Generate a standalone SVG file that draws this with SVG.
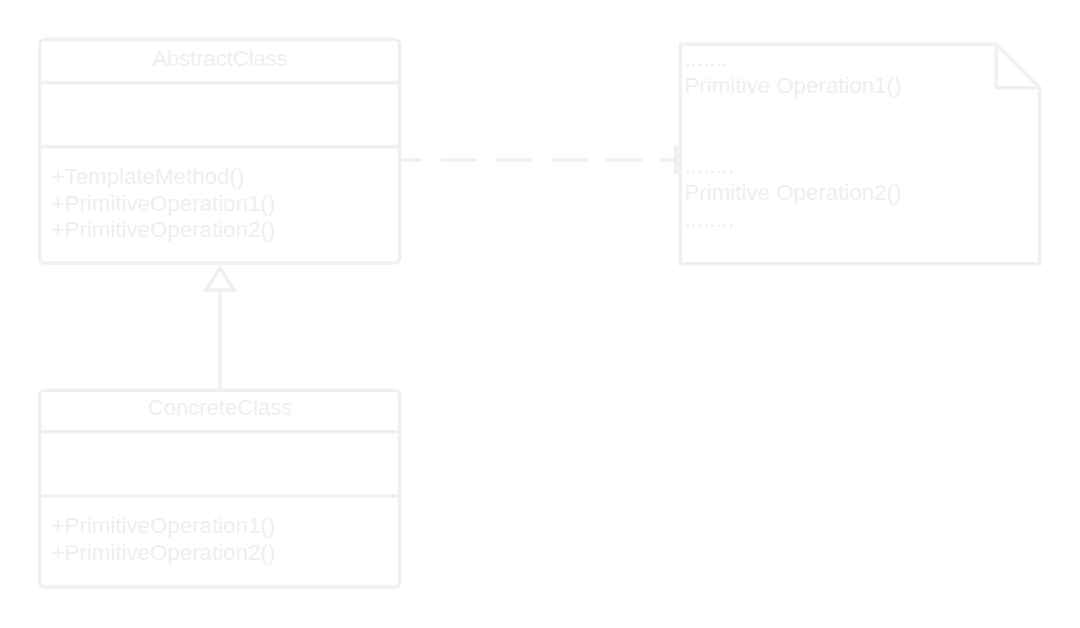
<svg xmlns="http://www.w3.org/2000/svg" width="1080" height="628" viewBox="0 0 1080 628">
<style>
.box{fill:#ffffff;stroke:#f0f0f0;stroke-width:3.6}
.ln{fill:none;stroke:#f0f0f0;stroke-width:3.6}
.t{font-family:"Liberation Sans",Arial,sans-serif;font-size:22.3px;fill:#efefef}
.h{font-size:22px;text-anchor:middle}
</style>
<rect width="1080" height="628" fill="#ffffff"/>
<g id="connectors">
  <line class="ln" x1="400" y1="160" x2="676" y2="160" stroke-dasharray="36 19" stroke-dashoffset="14"/>
  <rect x="674" y="145" width="4" height="29" fill="#f0f0f0"/>
  <line class="ln" x1="220" y1="390" x2="220" y2="290"/>
  <polygon class="ln" points="220,268 234,290 206,290" stroke-linejoin="miter"/>
</g>
<g id="AbstractClass">
  <rect class="box" x="39.7" y="39.5" width="360" height="223.5" rx="5"/>
  <line class="ln" x1="39.7" y1="82.7" x2="399.7" y2="82.7"/>
  <line class="ln" x1="39.7" y1="146.7" x2="399.7" y2="146.7"/>
  <text class="t h" x="220" y="66">AbstractClass</text>
  <text class="t" x="51.5" y="184">+TemplateMethod()</text>
  <text class="t" x="51.5" y="210.7">+PrimitiveOperation1()</text>
  <text class="t" x="51.5" y="237.4">+PrimitiveOperation2()</text>
</g>
<g id="ConcreteClass">
  <rect class="box" x="39.7" y="390.3" width="360" height="196.7" rx="5"/>
  <line class="ln" x1="39.7" y1="431.7" x2="399.7" y2="431.7"/>
  <line class="ln" x1="39.7" y1="496" x2="399.7" y2="496"/>
  <text class="t h" x="220" y="415">ConcreteClass</text>
  <text class="t" x="51.5" y="533.3">+PrimitiveOperation1()</text>
  <text class="t" x="51.5" y="560">+PrimitiveOperation2()</text>
</g>
<g id="Note">
  <path class="box" d="M680.3,44.2 L996.3,44.2 L1039.7,87.7 L1039.7,263.7 L680.3,263.7 Z"/>
  <path class="ln" d="M996.3,44.2 L996.3,87.7 L1039.7,87.7"/>
  <text class="t" x="684.5" y="66.2">.......</text>
  <text class="t" x="684.5" y="93">Primitive Operation1()</text>
  <text class="t" x="684.5" y="173.4">........</text>
  <text class="t" x="684.5" y="200.2">Primitive Operation2()</text>
  <text class="t" x="684.5" y="227">........</text>
</g>
</svg>
